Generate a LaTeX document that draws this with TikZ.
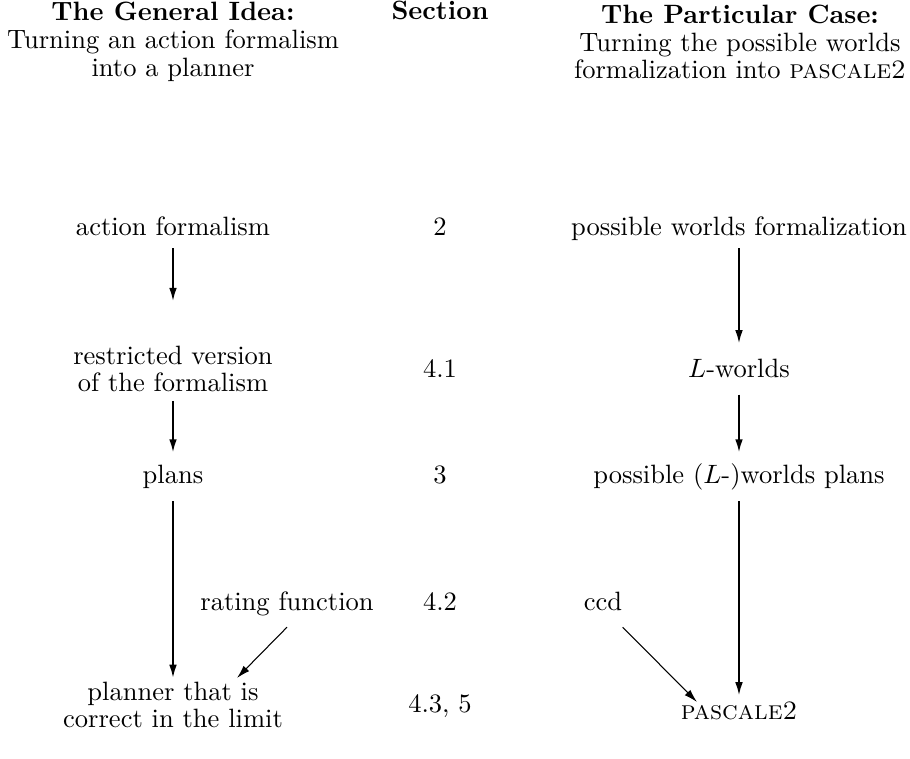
\documentclass[tikz,border=0pt]{standalone}
\usetikzlibrary{arrows.meta}
\begin{document}
\begin{tikzpicture}[x=0.377pt,y=-0.377pt,
  lbl/.style={inner sep=0pt,text height=6.9pt,text depth=1.9pt},
  two/.style={inner sep=0pt,align=center,font=\fontsize{10}{10.5}\selectfont},
  varr/.style={line width=0.75pt,-{Latex[length=5pt,width=2.9pt]}},
  darr/.style={line width=0.4pt,-{Latex[length=5pt,width=2.9pt]}}]
\useasboundingbox (0,0) rectangle (910,759);
% headers
\node[two] (hl) at (173,42) {\textbf{The General Idea:}\\Turning an action formalism\\into a planner};
\node[lbl] (hs) at (440,13) {\textbf{Section}};
\node[two] (hr) at (740,42) {\textbf{The Particular Case:}\\Turning the possible worlds\\formalization into \textsc{pascale2}};
% row 1
\node[lbl] (af) at (173,229) {action formalism};
\node[lbl] (s2) at (440,229) {2};
\node[lbl] (pwf) at (739,229) {possible worlds formalization};
% row 2
\node[two] (rv) at (173,369) {restricted version\\of the formalism};
\node[lbl] (s41) at (440,371) {4.1};
\node[lbl] (lw) at (739,371) {$L$-worlds};
% row 3
\node[lbl] (pl) at (173,477) {plans};
\node[lbl] (s3) at (440,477) {3};
\node[lbl] (pwp) at (739,477) {possible ($L$-)worlds plans};
% row 4
\node[lbl] (rf) at (287,604) {rating function};
\node[lbl] (s42) at (440,604) {4.2};
\node[lbl] (ccd) at (603,604) {ccd};
% row 5
\node[two] (pc) at (173,705) {planner that is\\correct in the limit};
\node[lbl] (s43) at (440,706) {4.3, 5};
\node[lbl] (pas) at (739,713) {\textsc{pascale2}};
% end points of the slanted arrows
\coordinate (rfE) at (237,678);
\coordinate (ccdE) at (697,702);
% arrows
\draw[varr,shorten <=2.75pt,shorten >=16.6pt] (af) -- (rv);
\draw[varr,shorten <=3pt,shorten >=4.6pt] (rv) -- (pl);
\draw[varr,shorten <=4.6pt,shorten >=1.2pt] (pl) -- (pc);
\draw[varr,shorten <=2.75pt,shorten >=5.8pt] (pwf) -- (lw);
\draw[varr,shorten <=4.3pt,shorten >=4.6pt] (lw) -- (pwp);
\draw[varr,shorten <=4.6pt,shorten >=2pt] (pwp) -- (pas);
\draw[darr] (rf.south) ++(0,11) -- (rfE);
\draw[darr] (ccd.south east) ++(0,11) -- (ccdE);
\end{tikzpicture}
\end{document}
